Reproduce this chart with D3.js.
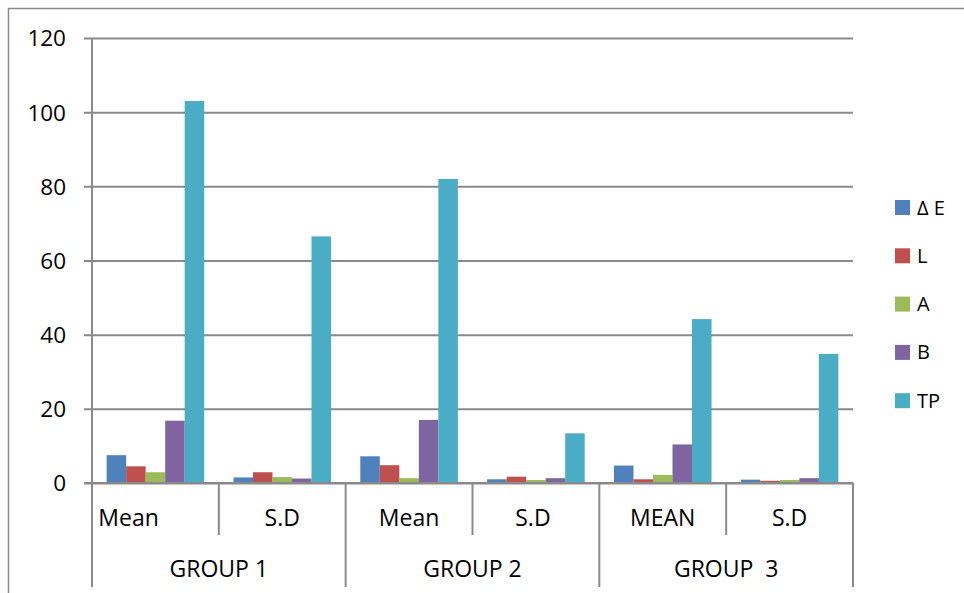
<!DOCTYPE html>
<html>
<head>
<meta charset="utf-8">
<script src="https://cdn.jsdelivr.net/npm/d3@7"></script>
<style>
  html, body { margin: 0; padding: 0; background: #fff; }
  svg { display: block; font-family: "Open Sans", sans-serif; }
  text { white-space: pre; }
</style>
</head>
<body>
<svg id="chart" width="964" height="593"></svg>
<script>
// Groups and their sub-categories (two per group)
const groups = ["GROUP 1", "GROUP 2", "GROUP\u00a0\u00a03"];
const categories = ["Mean", "S.D", "Mean", "S.D", "MEAN", "S.D"];
const categoryLabels = ["Mean\u00a0\u00a0\u00a0\u00a0\u00a0\u00a0\u00a0\u00a0\u00a0", "S.D", "Mean", "S.D\u00a0", "MEAN", "S.D"];

// Series
const seriesNames = ["\u0394 E", "L", "A", "B", "TP"];
const seriesColors = ["#4F81BD", "#C0504D", "#9BBB59", "#8064A2", "#4BACC6"];
const deltaE = [7.5, 1.5, 7.2, 1.0, 4.7, 0.9];
const lValues = [4.5, 2.9, 4.8, 1.7, 1.0, 0.6];
const aValues = [2.9, 1.6, 1.3, 0.8, 2.2, 0.8];
const bValues = [16.8, 1.2, 17.0, 1.3, 10.4, 1.3];
const tpValues = [103, 66.5, 82, 13.4, 44.2, 34.8];
const seriesValues = [deltaE, lValues, aValues, bValues, tpValues];

// Y axis ticks
const yTicks = [0, 20, 40, 60, 80, 100, 120];

const svg = d3.select("#chart");
const gridColor = "#8a8a8a";
const plotLeft = 92, plotRight = 853, plotTop = 38, plotBottom = 483;

// outer chart frame (left and top edges visible)
svg.append("path")
  .attr("d", "M8.5,600 V8.5 H970")
  .attr("fill", "none").attr("stroke", gridColor).attr("stroke-width", 1.5);

const y = d3.scaleLinear().domain([0, 120]).range([plotBottom, plotTop]);
const x0 = d3.scaleBand().domain(d3.range(categories.length)).range([plotLeft, plotRight]).paddingInner(0).paddingOuter(0);
const x1 = d3.scaleBand().domain(d3.range(seriesNames.length)).range([0, x0.bandwidth()])
  .paddingInner(0).paddingOuter(0.75);

// Horizontal gridlines + y ticks
const yAxis = d3.axisLeft(y).tickValues(yTicks).tickSize(-(plotRight - plotLeft)).tickPadding(0).tickFormat(d3.format("d"));
const gy = svg.append("g").attr("transform", `translate(${plotLeft},0)`).call(yAxis);
gy.select(".domain").remove();
gy.selectAll(".tick line").attr("stroke", gridColor).attr("stroke-width", 2).attr("x1", -8);
gy.selectAll(".tick text")
  .attr("x", -26).attr("dy", "0.35em")
  .attr("font-size", 22.5).attr("fill", "#000")
  .attr("font-family", "'Open Sans', sans-serif");

// Bars
const barG = svg.append("g");
seriesValues.forEach((vals, si) => {
  barG.selectAll(null)
    .data(vals)
    .join("rect")
    .attr("x", (d, i) => x0(i) + x1(si))
    .attr("y", d => y(d))
    .attr("width", x1.bandwidth())
    .attr("height", d => y(0) - y(d))
    .attr("fill", seriesColors[si]);
});

// Vertical axis line
svg.append("line")
  .attr("x1", plotLeft).attr("x2", plotLeft).attr("y1", plotTop).attr("y2", 587)
  .attr("stroke", gridColor).attr("stroke-width", 2);

// Category axis baseline
svg.append("line")
  .attr("x1", plotLeft - 8).attr("x2", plotRight).attr("y1", plotBottom).attr("y2", plotBottom)
  .attr("stroke", gridColor).attr("stroke-width", 2);

// Separators: short ones between sub-categories, long ones between groups
categories.forEach((c, i) => {
  if (i === 0) return;
  const isGroupEdge = i % 2 === 0;
  svg.append("line")
    .attr("x1", x0(i)).attr("x2", x0(i))
    .attr("y1", plotBottom).attr("y2", isGroupEdge ? 587 : 535)
    .attr("stroke", gridColor).attr("stroke-width", 2);
});
svg.append("line")
  .attr("x1", plotRight).attr("x2", plotRight).attr("y1", plotBottom).attr("y2", 587)
  .attr("stroke", gridColor).attr("stroke-width", 2);

// Category labels
svg.selectAll(null).data(categoryLabels).join("text")
  .attr("x", (d, i) => x0(i) + x0.bandwidth() / 2)
  .attr("y", 526)
  .attr("text-anchor", "middle")
  .attr("font-size", 23)
  .attr("fill", "#000")
  .text(d => d);

// Group labels
svg.selectAll(null).data(groups).join("text")
  .attr("x", (d, g) => (x0(g * 2) + x0(g * 2 + 1) + x0.bandwidth()) / 2)
  .attr("y", 577)
  .attr("text-anchor", "middle")
  .attr("font-size", 23)
  .attr("fill", "#000")
  .text(d => d);

// Legend
const legend = svg.append("g").attr("transform", "translate(895,200)");
const item = legend.selectAll("g").data(seriesNames).join("g")
  .attr("transform", (d, i) => `translate(0,${i * 48.3})`);
item.append("rect").attr("width", 15).attr("height", 15).attr("fill", (d, i) => seriesColors[i]);
item.append("text")
  .attr("x", 22).attr("y", 7.5).attr("dy", "0.35em")
  .attr("font-size", 20).attr("fill", "#000")
  .text(d => d);
</script>
</body>
</html>
